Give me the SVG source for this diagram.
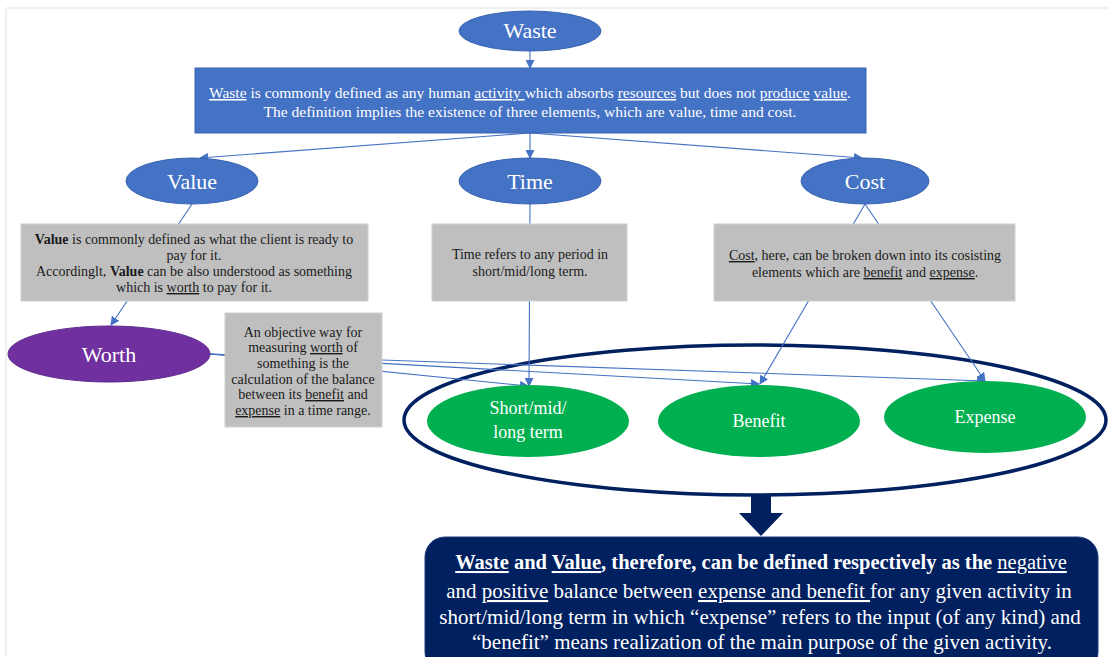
<svg xmlns="http://www.w3.org/2000/svg" width="1108" height="657" viewBox="0 0 1108 657" font-family="'Liberation Serif', 'DejaVu Serif', serif">
<defs>
<marker id="ah" viewBox="0 0 10 10" refX="9" refY="5" markerWidth="9" markerHeight="9" markerUnits="userSpaceOnUse" orient="auto">
<path d="M0,0 L10,5 L0,10 z" fill="#4472C4"/>
</marker>
<style>
text, tspan { font-family: 'Liberation Serif', 'DejaVu Serif', serif; }
.ca{stroke:#4472C4;stroke-width:1.1;fill:none;marker-end:url(#ah);}
.blue{fill:#4472C4;stroke:#3A64B0;stroke-width:1;}
.gray{fill:#BFBFBF;stroke:#D0D0D0;stroke-width:1;}
.green{fill:#00B050;}
.wt{fill:#FFFFFF;text-anchor:middle;}
.bt{fill:#1A1A1A;text-anchor:middle;font-size:14px;}
.u{text-decoration:underline;}
.b{font-weight:bold;}
</style>
</defs>
<rect x="0" y="0" width="1108" height="657" fill="#FFFFFF"/>
<line x1="6" y1="8" x2="1108" y2="8" stroke="#EAEAEA" stroke-width="1.5"/>
<line x1="6" y1="8" x2="6" y2="657" stroke="#EAEAEA" stroke-width="1.5"/>

<g id="group-ellipse">
<ellipse cx="755" cy="420" rx="351" ry="75" fill="#FFFFFF" stroke="#002060" stroke-width="3.5"/>
</g>

<g id="connectors">
<line class="ca" x1="530" y1="51" x2="530" y2="68"/>
<line class="ca" x1="530" y1="133" x2="200" y2="158"/>
<line class="ca" x1="530" y1="133" x2="530" y2="158"/>
<line class="ca" x1="530" y1="133" x2="862" y2="158"/>
<line class="ca" x1="192" y1="204" x2="111" y2="325"/>
<line class="ca" x1="530" y1="204" x2="529" y2="386"/>
<line class="ca" x1="865" y1="204" x2="760" y2="384"/>
<line class="ca" x1="865" y1="204" x2="985" y2="381"/>
<line class="ca" x1="210" y1="354" x2="528" y2="386"/>
<line class="ca" x1="210" y1="354" x2="759" y2="384"/>
<line class="ca" x1="210" y1="354" x2="985" y2="381"/>
<polygon points="751,496 771,496 771,513 783,513 761,536 739,513 751,513" fill="#002060"/>
</g>

<g id="waste">
<ellipse class="blue" cx="530" cy="31" rx="71" ry="20"/>
<text class="wt" x="530" y="38" font-size="22">Waste</text>
</g>

<g id="waste-def">
<rect class="blue" x="195" y="68" width="671" height="65"/>
<text class="wt" x="530" y="98" font-size="15.5"><tspan class="u">Waste</tspan> is commonly defined as any human <tspan class="u">activity </tspan> which absorbs <tspan class="u">resources</tspan> but does not <tspan class="u">produce</tspan> <tspan class="u">value</tspan>.</text>
<text class="wt" x="530" y="117" font-size="15.5">The definition implies the existence of three elements, which are value, time and cost.</text>
</g>

<g id="value">
<ellipse class="blue" cx="192" cy="181" rx="66" ry="23"/>
<text class="wt" x="192" y="189" font-size="22">Value</text>
</g>

<g id="time">
<ellipse class="blue" cx="530" cy="181" rx="71" ry="23"/>
<text class="wt" x="530" y="189" font-size="22">Time</text>
</g>

<g id="cost">
<ellipse class="blue" cx="865" cy="181" rx="64" ry="23"/>
<text class="wt" x="865" y="189" font-size="22">Cost</text>
</g>

<g id="value-def">
<rect class="gray" x="21" y="224" width="347" height="77"/>
<text class="bt" x="194" y="244" font-size="13.7"><tspan class="b">Value</tspan> is commonly defined as what the client is ready to</text>
<text class="bt" x="194" y="260" font-size="13.7">pay for it.</text>
<text class="bt" x="194" y="276" font-size="13.7">Accordinglt, <tspan class="b">Value</tspan> can be also understood as something</text>
<text class="bt" x="194" y="292" font-size="13.7">which is <tspan class="u">worth</tspan> to pay for it.</text>
</g>

<g id="time-def">
<rect class="gray" x="432" y="224" width="195" height="77"/>
<text class="bt" x="530" y="259">Time refers to any period in</text>
<text class="bt" x="530" y="276">short/mid/long term.</text>
</g>

<g id="cost-def">
<rect class="gray" x="714" y="224" width="301" height="77"/>
<text class="bt" x="865" y="260"><tspan class="u">Cost</tspan>, here, can be broken down into its cosisting</text>
<text class="bt" x="865" y="277">elements which are <tspan class="u">benefit</tspan> and <tspan class="u">expense</tspan>.</text>
</g>

<g id="worth">
<ellipse cx="109" cy="354" rx="101" ry="28" fill="#7030A0" stroke="#5E2A8C" stroke-width="1"/>
<text class="wt" x="109" y="362" font-size="22">Worth</text>
</g>

<g id="worth-def">
<rect class="gray" x="225" y="313" width="157" height="114"/>
<text class="bt" x="303" y="337" font-size="13">An objective way for</text>
<text class="bt" x="303" y="352" font-size="13">measuring <tspan class="u">worth</tspan> of</text>
<text class="bt" x="303" y="368" font-size="13">something is the</text>
<text class="bt" x="303" y="384" font-size="13">calculation of the balance</text>
<text class="bt" x="303" y="399" font-size="13">between its <tspan class="u">benefit</tspan> and</text>
<text class="bt" x="303" y="415" font-size="13"><tspan class="u">expense</tspan> in a time range.</text>
</g>

<g id="short-term">
<ellipse class="green" cx="528" cy="421" rx="101" ry="36"/>
<text class="wt" x="528" y="414" font-size="18">Short/mid/</text>
<text class="wt" x="528" y="438" font-size="18">long term</text>
</g>

<g id="benefit">
<ellipse class="green" cx="759" cy="421" rx="101" ry="36"/>
<text class="wt" x="759" y="427" font-size="18">Benefit</text>
</g>

<g id="expense">
<ellipse class="green" cx="985" cy="417" rx="101" ry="36"/>
<text class="wt" x="985" y="423" font-size="18">Expense</text>
</g>

<g id="conclusion">
<rect x="425" y="537" width="673" height="135" rx="20" ry="20" fill="#002060" stroke="#1F3A7A" stroke-width="1"/>
<text class="wt" x="761" y="569" font-size="20.5"><tspan class="b"><tspan class="u">Waste</tspan> and <tspan class="u">Value</tspan>, therefore, can be defined respectively as the </tspan><tspan class="u">negative</tspan></text>
<text class="wt" x="759" y="598" font-size="21">and <tspan class="u">positive</tspan> balance between <tspan class="u">expense and benefit </tspan>for any given activity in</text>
<text class="wt" x="760" y="624" font-size="21">short/mid/long term in which “expense” refers to the input (of any kind) and</text>
<text class="wt" x="762" y="649" font-size="21">“benefit” means realization of the main purpose of the given activity.</text>
</g>
</svg>
